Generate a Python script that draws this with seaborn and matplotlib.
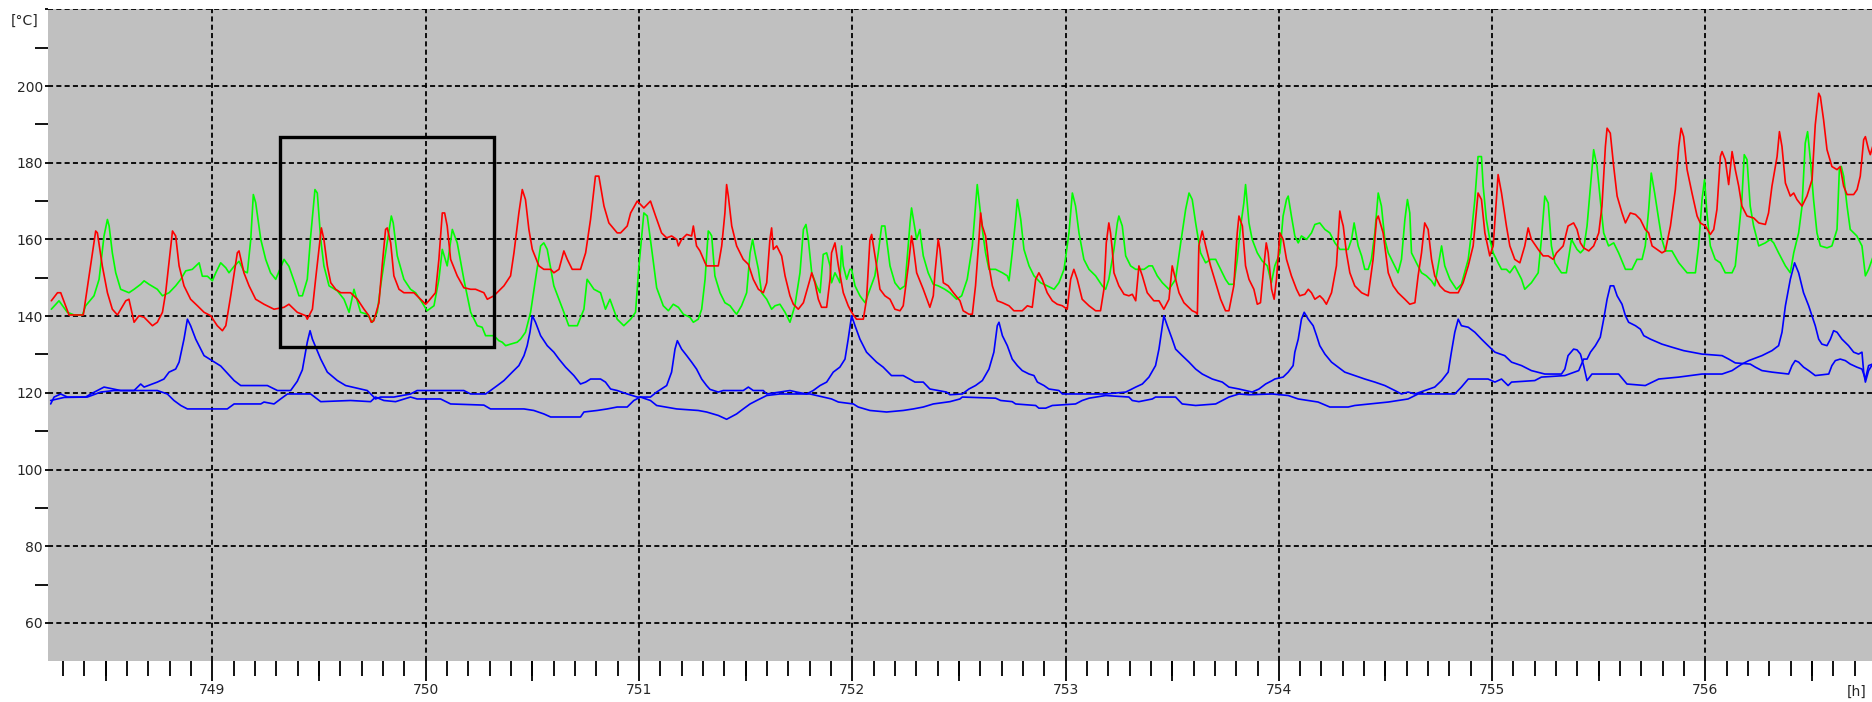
import matplotlib
matplotlib.use("Agg")
import matplotlib.pyplot as plt
import seaborn as sns
from matplotlib.patches import Rectangle
from matplotlib.ticker import FixedLocator, MultipleLocator

# ---------------- data (hours, degC) ----------------
red_h = [748.245, 748.274, 748.289, 748.328, 748.395, 748.453, 748.461, 748.484, 748.508, 748.531,
         748.555, 748.594, 748.609, 748.633, 748.656, 748.680, 748.719, 748.742, 748.766, 748.781,
         748.813, 748.828, 748.844, 748.867, 748.898, 748.930, 748.961, 748.992, 749.023, 749.047,
         749.063, 749.086, 749.117, 749.125, 749.148, 749.172, 749.203, 749.242, 749.289, 749.336,
         749.359, 749.398, 749.438, 749.445, 749.469, 749.484, 749.511, 749.523, 749.539, 749.555,
         749.578, 749.602,
         749.648, 749.680, 749.711, 749.734, 749.745, 749.757, 749.781, 749.796, 749.812, 749.820,
         749.836, 749.851, 749.875, 749.898, 749.945, 749.976, 750.000, 750.015, 750.046, 750.062,
         750.078, 750.089, 750.101, 750.117, 750.148, 750.179, 750.211, 750.234, 750.273, 750.289,
         750.320, 750.367, 750.398, 750.414, 750.437, 750.453, 750.468, 750.484, 750.500, 750.531,
         750.554, 750.586, 750.601, 750.625, 750.648, 750.664, 750.687, 750.726, 750.750, 750.773,
         750.796, 750.812, 750.836, 750.859, 750.898, 750.914, 750.945, 750.961, 750.992, 751.023,
         751.054, 751.078,
         751.106, 751.130, 751.153, 751.177, 751.185, 751.200, 751.224, 751.247, 751.255, 751.270,
         751.286, 751.310, 751.317, 751.372, 751.388, 751.403, 751.411, 751.419, 751.435, 751.458,
         751.489, 751.513, 751.536, 751.560, 751.583, 751.599, 751.614, 751.622, 751.630, 751.646,
         751.669, 751.685, 751.708, 751.724, 751.747, 751.771, 751.802, 751.810, 751.825, 751.841,
         751.856, 751.880, 751.896, 751.903, 751.919, 751.935, 751.958, 751.981, 751.997, 752.020,
         752.052, 752.067, 752.083, 752.091, 752.114, 752.130, 752.153, 752.177, 752.200, 752.224,
         752.239, 752.263, 752.278, 752.286, 752.302, 752.333, 752.364, 752.380, 752.388, 752.403,
         752.411, 752.427, 752.450, 752.474, 752.505,
         752.520, 752.547, 752.563, 752.578, 752.594, 752.602, 752.610, 752.625, 752.641, 752.657,
         752.680, 752.704, 752.735, 752.758, 752.797, 752.821, 752.844, 752.860, 752.875, 752.891,
         752.914, 752.938, 752.961, 752.985, 753.008, 753.024, 753.039, 753.055, 753.078, 753.110,
         753.141, 753.164, 753.180, 753.191, 753.203, 753.211, 753.219, 753.227, 753.250, 753.274,
         753.297, 753.313, 753.329, 753.344, 753.360, 753.383, 753.414, 753.438, 753.461, 753.485,
         753.500, 753.516, 753.532, 753.555, 753.594, 753.610, 753.618, 753.625, 753.641, 753.657,
         753.680, 753.704, 753.727, 753.750, 753.766, 753.789, 753.805, 753.813, 753.829, 753.844,
         753.860, 753.883, 753.899, 753.914, 753.930, 753.941,
         753.950, 753.966, 753.978, 753.989, 754.005, 754.020, 754.036, 754.059, 754.083, 754.098,
         754.122, 754.138, 754.153, 754.169, 754.192, 754.208, 754.223, 754.247, 754.270, 754.286,
         754.294, 754.302, 754.317, 754.333, 754.356, 754.388, 754.419, 754.442, 754.458, 754.466,
         754.489, 754.513, 754.536, 754.559, 754.591, 754.614, 754.638, 754.653, 754.669, 754.684,
         754.700, 754.716, 754.731, 754.755, 754.778, 754.802, 754.841, 754.864, 754.888, 754.911,
         754.934, 754.950, 754.966, 754.989, 755.005, 755.020, 755.028, 755.044, 755.067, 755.083,
         755.106, 755.130, 755.153, 755.169, 755.184, 755.216, 755.239, 755.263, 755.286, 755.302,
         755.333, 755.356,
         755.382, 755.398, 755.414, 755.429, 755.453, 755.476, 755.500, 755.515, 755.531, 755.539,
         755.554, 755.570, 755.586, 755.609, 755.625, 755.648, 755.672, 755.695, 755.718, 755.734,
         755.750, 755.773, 755.796, 755.812, 755.836, 755.859, 755.875, 755.886, 755.898, 755.914,
         755.937, 755.961, 755.976, 756.000, 756.023, 756.039, 756.054, 756.070, 756.078, 756.093,
         756.109, 756.125, 756.140, 756.156, 756.171, 756.195, 756.226, 756.250, 756.281, 756.296,
         756.312, 756.336, 756.347, 756.359, 756.375, 756.398, 756.414, 756.429, 756.453, 756.476,
         756.500, 756.515, 756.531, 756.539, 756.554, 756.570, 756.593, 756.617, 756.632, 756.648,
         756.664, 756.695, 756.711, 756.726, 756.742, 756.750, 756.765, 756.773, 756.784]
red_v = [144.0, 146.1, 146.1, 140.3, 140.3, 162.2, 161.7, 153.1, 146.1, 141.8,
         140.3, 144.0, 144.4, 138.4, 140.1, 139.7, 137.5, 138.4, 141.0, 146.1,
         162.2, 160.9, 153.1, 147.9, 144.4, 142.7, 141.0, 140.1, 137.5, 136.2,
         137.5, 145.3, 156.5, 157.0, 151.3, 147.9, 144.4, 143.1, 141.8, 142.3,
         143.1, 141.0, 140.1, 139.2, 141.8, 149.6, 163.0, 160.0, 153.1, 148.7,
         147.0, 146.1,
         146.1, 144.4, 141.8, 140.1, 138.4, 138.8, 143.5, 153.1, 162.6, 163.0,
         159.1, 150.5, 147.0, 146.1, 146.1, 144.4, 143.1, 144.0, 146.1, 154.8,
         166.9, 166.9, 163.5, 154.8, 150.5, 147.4, 147.0, 147.0, 146.1, 144.4,
         145.3, 147.9, 150.5, 156.5, 166.9, 173.0, 170.4, 162.6, 157.4, 153.1,
         152.2, 152.2, 151.3, 152.2, 157.0, 154.8, 152.2, 152.2, 156.5, 165.2,
         176.5, 176.5, 168.7, 164.3, 161.7, 161.7, 163.5, 166.9, 170.0, 168.2,
         170.0, 166.1,
         161.7, 160.4, 160.9, 160.0, 158.3, 160.0, 161.3, 160.9, 163.5, 158.3,
         157.0, 153.9, 153.1, 153.1, 158.3, 166.9, 174.3, 171.3, 163.5, 158.3,
         154.8, 153.5, 149.6, 147.0, 146.1, 148.7, 160.0, 163.0, 157.4, 158.3,
         155.7, 150.5, 145.3, 143.1, 141.8, 143.5, 149.6, 151.3, 148.7, 144.4,
         142.3, 142.3, 149.6, 156.5, 159.1, 153.1, 146.1, 142.7, 141.0, 139.2,
         139.2, 144.4, 160.0, 161.3, 153.1, 147.0, 145.3, 144.4, 141.8, 141.4,
         142.7, 153.1, 160.9, 158.3, 151.3, 147.0, 142.3, 145.3, 151.3, 160.0,
         157.4, 148.7, 147.9, 146.1, 144.0,
         141.4, 140.5, 140.5, 147.9, 160.0, 166.9, 163.5, 160.9, 153.1, 147.9,
         144.0, 143.5, 142.7, 141.4, 141.4, 142.7, 142.3, 149.6, 151.3, 149.6,
         146.1, 144.0, 143.1, 142.7, 141.8, 149.6, 152.2, 149.6, 144.4, 142.7,
         141.4, 141.4, 147.0, 159.1, 164.3, 161.7, 157.4, 151.3, 147.9, 145.7,
         145.3, 145.7, 144.0, 153.1, 150.5, 146.1, 144.0, 144.0, 141.8, 144.4,
         153.1, 149.6, 146.1, 143.5, 141.4, 141.0, 140.5, 158.3, 162.2, 158.3,
         153.1, 148.7, 144.4, 141.4, 141.4, 147.9, 161.7, 166.1, 163.5, 153.1,
         149.6, 147.0, 143.1, 143.5, 153.1, 159.1,
         156.5, 147.0, 144.4, 149.6, 161.7, 160.0, 154.8, 150.5, 147.0, 145.3,
         145.7, 147.0, 146.1, 144.4, 145.3, 144.4, 143.1, 146.1, 153.1, 167.4,
         165.2, 163.5, 156.5, 151.3, 147.9, 146.1, 145.3, 154.8, 165.2, 166.1,
         161.7, 151.3, 147.9, 146.1, 144.4, 143.1, 143.5, 150.5, 156.5, 164.3,
         162.6, 154.8, 150.5, 147.9, 146.6, 146.1, 146.1, 148.7, 153.1, 158.3,
         172.1, 170.4, 161.7, 155.7, 158.3, 170.4, 176.9, 172.1, 163.5, 158.3,
         154.8, 153.9, 158.3, 163.0, 160.0, 157.4, 155.7, 155.7, 154.8, 156.5,
         158.3, 163.5,
         164.3, 162.6, 159.1, 157.8, 157.0, 158.3, 161.7, 168.7, 184.2, 189.0,
         187.7, 179.0, 171.3, 166.9, 164.3, 166.9, 166.5, 165.2, 162.6, 161.7,
         158.3, 157.4, 156.5, 157.0, 163.5, 173.0, 184.2, 189.0, 186.8, 178.2,
         172.1, 166.1, 164.3, 163.5, 161.3, 162.6, 167.8, 181.6, 182.9, 180.8,
         174.3, 182.9, 178.2, 173.9, 168.7, 166.1, 165.6, 164.3, 163.9, 166.9,
         173.9, 181.6, 188.1, 184.2, 174.7, 171.3, 172.1, 170.4, 168.7, 171.3,
         175.6, 189.9, 198.1, 197.2, 191.2, 183.4, 179.0, 178.2, 179.0, 173.9,
         171.7, 171.7, 173.0, 176.5, 186.0, 186.8, 183.4, 182.1, 184.2]

green_h = [748.245, 748.281, 748.320, 748.352, 748.391, 748.406, 748.445, 748.469, 748.492, 748.508,
           748.516, 748.531, 748.547, 748.570, 748.609, 748.633, 748.664, 748.680, 748.703, 748.742,
           748.766, 748.797, 748.828, 748.852, 748.875, 748.906, 748.938, 748.953, 748.977, 749.000,
           749.016, 749.039, 749.063, 749.078, 749.102, 749.125, 749.148, 749.164, 749.180, 749.192,
           749.203, 749.227, 749.250, 749.273, 749.297, 749.336, 749.359, 749.391, 749.406, 749.422,
           749.445, 749.461, 749.481, 749.492, 749.508, 749.523, 749.547, 749.586, 749.617, 749.641,
           749.664, 749.695, 749.726, 749.750, 749.773, 749.789, 749.812, 749.839, 749.848, 749.867,
           749.898, 749.929, 749.953, 749.984, 750.007, 750.039, 750.062, 750.078, 750.101, 750.125,
           750.148, 750.179, 750.211, 750.242, 750.265, 750.281, 750.320, 750.343, 750.359, 750.375,
           750.398, 750.429, 750.445, 750.468, 750.492, 750.515, 750.539, 750.554, 750.570, 750.601,
           750.648, 750.671, 750.711, 750.742, 750.757, 750.789, 750.820, 750.843, 750.864, 750.898,
           750.929, 750.961, 750.984, 751.000, 751.023, 751.039, 751.062,
           751.083, 751.114, 751.138, 751.161, 751.185, 751.208, 751.239, 751.255, 751.278, 751.294,
           751.310, 751.325, 751.333, 751.341, 751.356, 751.380, 751.403, 751.427, 751.450, 751.458,
           751.481, 751.505, 751.521, 751.533, 751.544, 751.560, 751.575, 751.599, 751.622, 751.638,
           751.661, 751.685, 751.708, 751.731, 751.755, 751.771, 751.783, 751.794, 751.810, 751.833,
           751.849, 751.864, 751.880, 751.896, 751.903, 751.919, 751.935, 751.942, 751.950, 751.958,
           751.974, 751.989, 751.997, 752.013, 752.036, 752.060, 752.083, 752.106, 752.122, 752.138,
           752.153, 752.177, 752.200, 752.224, 752.247, 752.271, 752.278, 752.302, 752.317, 752.333,
           752.356, 752.380, 752.403, 752.434, 752.458, 752.489, 752.513,
           752.539, 752.563, 752.578, 752.586, 752.594, 752.610, 752.625, 752.641, 752.672, 752.704,
           752.727, 752.735, 752.750, 752.766, 752.774, 752.790, 752.805, 752.829, 752.852, 752.883,
           752.914, 752.946, 752.969, 752.993, 753.016, 753.032, 753.047, 753.063, 753.086, 753.110,
           753.141, 753.172, 753.188, 753.203, 753.227, 753.243, 753.250, 753.266, 753.282, 753.305,
           753.329, 753.368, 753.391, 753.407, 753.430, 753.454, 753.485, 753.516, 753.540, 753.563,
           753.579, 753.594, 753.610, 753.633, 753.657, 753.680, 753.704, 753.727, 753.750, 753.766,
           753.789, 753.805, 753.821, 753.836, 753.844, 753.860, 753.875, 753.899, 753.922, 753.946,
           753.965, 753.981, 754.005, 754.020, 754.036, 754.044, 754.059, 754.075, 754.091, 754.106,
           754.130, 754.153, 754.169, 754.192, 754.216, 754.239, 754.263, 754.286, 754.325, 754.341,
           754.353, 754.372, 754.388, 754.403, 754.419, 754.434, 754.450, 754.466, 754.481, 754.497,
           754.513, 754.536, 754.559, 754.575, 754.591, 754.603, 754.614, 754.622, 754.645, 754.669,
           754.692, 754.716, 754.731, 754.747, 754.763, 754.778, 754.802, 754.833, 754.856, 754.888,
           754.903, 754.919, 754.934, 754.950, 754.958, 754.973, 754.989, 755.005, 755.028, 755.044,
           755.067, 755.083, 755.106, 755.138, 755.153, 755.184, 755.216, 755.231, 755.247, 755.263,
           755.278, 755.294, 755.325, 755.348, 755.372,
           755.398, 755.414, 755.429, 755.445, 755.461, 755.476, 755.492, 755.507, 755.523, 755.546,
           755.570, 755.593, 755.625, 755.656, 755.679, 755.703, 755.718, 755.734, 755.746, 755.762,
           755.781, 755.796, 755.812, 755.843, 755.875, 755.914, 755.953, 755.968, 755.984, 755.996,
           756.007, 756.023, 756.046, 756.070, 756.093, 756.125, 756.140, 756.156, 756.171, 756.182,
           756.195, 756.210, 756.226, 756.250, 756.281, 756.304, 756.320, 756.343, 756.375, 756.398,
           756.414, 756.437, 756.453, 756.468, 756.479, 756.492, 756.507, 756.523, 756.539, 756.570,
           756.593, 756.617, 756.628, 756.637, 756.648, 756.664, 756.679, 756.710, 756.734, 756.750,
           756.765, 756.784]
green_v = [141.8, 144.0, 141.0, 140.3, 140.3, 142.7, 145.3, 149.6, 160.9, 165.2,
           163.5, 156.5, 151.3, 147.0, 146.1, 147.0, 148.3, 149.2, 148.3, 147.0,
           145.3, 146.1, 147.9, 149.6, 151.8, 152.2, 153.9, 150.4, 150.4, 149.2,
           151.3, 153.9, 152.6, 151.3, 153.0, 154.3, 151.7, 151.3, 160.0, 171.7,
           169.6, 160.0, 154.8, 151.3, 149.6, 154.8, 153.0, 147.9, 145.3, 145.3,
           149.6, 160.9, 173.0, 172.1, 160.0, 153.1, 147.9, 146.6, 144.4, 141.0,
           147.0, 141.0, 140.5, 138.4, 141.0, 147.9, 156.5, 166.1, 164.3, 155.7,
           149.6, 147.0, 146.1, 143.5, 141.4, 142.7, 149.6, 157.4, 153.1, 162.6,
           159.1, 149.6, 141.0, 137.5, 137.1, 134.9, 134.9, 133.6, 133.2, 132.3,
           132.7, 133.2, 134.0, 135.8, 141.0, 149.6, 158.3, 159.1, 157.4, 147.9,
           141.0, 137.5, 137.5, 141.8, 149.6, 147.0, 146.1, 141.8, 144.4, 139.2,
           137.5, 139.2, 141.0, 153.1, 166.9, 166.1, 156.5,
           147.4, 142.7, 141.4, 143.1, 142.3, 140.5, 139.7, 138.4, 139.2, 141.8,
           149.6, 162.2, 161.7, 160.9, 150.5, 146.1, 143.5, 142.7, 141.0, 140.5,
           142.7, 146.1, 156.5, 160.0, 156.5, 152.2, 146.1, 144.4, 141.8, 142.7,
           143.1, 141.0, 138.4, 142.7, 151.3, 162.6, 163.9, 160.0, 151.3, 147.9,
           146.1, 156.1, 156.5, 153.1, 148.7, 151.3, 149.6, 148.7, 158.3, 153.1,
           149.6, 152.2, 152.2, 147.9, 145.3, 143.5, 147.0, 150.5, 156.5, 163.5,
           163.5, 153.1, 148.7, 147.0, 147.9, 164.3, 168.2, 160.0, 162.6, 155.7,
           151.3, 148.3, 147.9, 147.0, 146.1, 144.4, 145.3,
           149.6, 158.3, 168.7, 174.3, 170.4, 162.6, 156.5, 152.2, 152.2, 151.3,
           150.5, 149.2, 156.5, 165.2, 170.4, 165.2, 157.4, 153.1, 150.5, 148.7,
           147.9, 147.0, 148.7, 152.2, 161.7, 172.1, 168.7, 161.7, 154.8, 152.2,
           150.5, 147.9, 147.0, 149.6, 157.4, 164.3, 166.1, 163.5, 155.7, 153.1,
           152.2, 152.2, 153.1, 153.1, 150.5, 148.7, 147.0, 149.6, 159.1, 167.8,
           172.1, 170.4, 164.3, 156.5, 153.9, 154.8, 154.8, 152.2, 149.6, 148.3,
           148.3, 154.8, 163.5, 169.5, 174.3, 164.3, 160.0, 156.5, 154.4, 153.1,
           148.7, 153.1, 156.5, 166.1, 170.4, 171.3, 166.1, 160.9, 159.1, 160.9,
           160.0, 161.7, 163.9, 164.3, 162.6, 161.7, 159.1, 157.4, 157.4, 160.0,
           164.3, 158.3, 155.7, 152.2, 152.2, 154.8, 161.7, 172.1, 168.7, 160.0,
           156.5, 153.9, 151.3, 154.8, 165.2, 170.4, 166.9, 156.5, 153.9, 151.3,
           150.5, 149.2, 147.9, 153.1, 158.3, 153.1, 149.6, 147.0, 148.3, 154.8,
           161.7, 170.4, 181.6, 181.6, 173.9, 165.2, 160.0, 156.5, 153.9, 152.2,
           152.2, 151.3, 153.1, 149.6, 147.0, 148.7, 151.3, 160.0, 171.3, 169.5,
           158.3, 153.9, 151.3, 151.3, 160.0,
           157.4, 156.5, 157.4, 163.5, 173.9, 183.4, 179.0, 170.4, 161.7, 158.3,
           159.1, 156.5, 152.2, 152.2, 154.8, 154.8, 158.3, 167.8, 177.3, 172.1,
           165.2, 160.0, 157.0, 157.0, 153.9, 151.3, 151.3, 158.3, 170.4, 175.6,
           166.9, 158.3, 154.8, 153.9, 151.3, 151.3, 153.1, 161.7, 170.4, 182.1,
           180.8, 168.7, 163.5, 158.3, 159.1, 160.0, 159.1, 156.5, 153.1, 151.3,
           156.5, 161.7, 168.7, 185.1, 188.1, 180.8, 170.4, 161.7, 158.3, 157.8,
           158.3, 162.6, 178.2, 179.0, 176.5, 168.7, 162.6, 160.9, 158.3, 150.5,
           152.2, 155.2]

blue_a_h = [748.242, 748.258, 748.289, 748.320, 748.406, 748.430, 748.492, 748.570, 748.633, 748.664,
            748.680, 748.742, 748.773, 748.797, 748.828, 748.844, 748.867, 748.883, 748.898, 748.922,
            748.961, 749.039, 749.102, 749.133, 749.258, 749.305, 749.367, 749.398, 749.422, 749.445,
            749.458, 749.469, 749.508, 749.539, 749.586, 749.625, 749.695, 749.726, 749.750, 749.765,
            749.789, 749.851, 749.929, 749.960, 750.179, 750.211, 750.281, 750.304, 750.336, 750.367,
            750.406, 750.437, 750.461, 750.476, 750.489, 750.500, 750.515, 750.539, 750.570, 750.601,
            750.625, 750.656, 750.695, 750.726, 750.750, 750.773, 750.820, 750.843, 750.867, 750.898,
            750.945, 750.992, 751.054, 751.083, 751.130, 751.153, 751.169, 751.180, 751.200, 751.224,
            751.247, 751.270, 751.294, 751.317, 751.333, 751.372, 751.395, 751.489, 751.513, 751.536,
            751.583, 751.599, 751.661, 751.708, 751.739, 751.786, 751.817, 751.849, 751.880, 751.911,
            751.942, 751.966, 751.981, 751.997, 752.013, 752.036, 752.067, 752.114, 752.145, 752.184,
            752.239, 752.294, 752.333, 752.364, 752.442, 752.458, 752.516, 752.547, 752.578, 752.610,
            752.641, 752.664, 752.680, 752.688, 752.704, 752.727, 752.750, 752.774, 752.797, 752.829,
            752.852, 752.868, 752.899, 752.922, 752.969, 752.985, 753.188, 753.282, 753.297, 753.329,
            753.360, 753.391, 753.422, 753.438, 753.454, 753.461, 753.477, 753.500, 753.516, 753.547,
            753.579, 753.610, 753.641, 753.688, 753.735, 753.766, 753.813, 753.844, 753.875, 753.907,
            753.938, 753.969, 753.981, 754.020, 754.044, 754.067, 754.075, 754.091, 754.106, 754.119,
            754.138, 754.161, 754.177, 754.192, 754.216, 754.247, 754.278, 754.309, 754.356, 754.403,
            754.450, 754.497, 754.544, 754.575, 754.606, 754.638, 754.684, 754.731, 754.763, 754.794,
            754.809, 754.825, 754.841, 754.856, 754.888, 754.919, 754.950, 754.981, 755.013, 755.059,
            755.091, 755.138, 755.184, 755.247, 755.325, 755.341, 755.356, 755.382, 755.398, 755.414,
            755.429, 755.445, 755.468, 755.593, 755.632, 755.718, 755.781, 755.875, 755.984, 756.078,
            756.125, 756.171, 756.203, 756.265, 756.312, 756.343, 756.359, 756.375, 756.398, 756.418,
            756.437, 756.460, 756.484, 756.515, 756.531, 756.546, 756.570, 756.586, 756.601, 756.617,
            756.640, 756.671, 756.695, 756.718, 756.734, 756.742, 756.750, 756.765, 756.784]
blue_a_v = [117.1, 118.9, 119.7, 118.9, 118.9, 119.7, 121.5, 120.6, 120.6, 122.3,
            121.5, 122.8, 123.6, 125.4, 126.2, 128.0, 134.0, 139.2, 137.5, 134.0,
            129.7, 127.0, 123.2, 121.9, 121.9, 120.6, 120.6, 123.0, 126.0, 133.2,
            136.2, 134.0, 128.8, 125.4, 123.2, 121.9, 121.0, 120.6, 119.3, 118.4,
            118.9, 118.9, 119.7, 120.6, 120.6, 119.7, 119.7, 120.6, 121.9, 123.2,
            125.4, 127.1, 129.7, 132.3, 135.8, 140.1, 138.4, 134.9, 132.3, 130.6,
            128.8, 126.7, 124.5, 122.3, 122.8, 123.6, 123.6, 122.8, 121.0, 120.6,
            119.7, 118.9, 118.9, 120.2, 121.9, 125.4, 131.4, 133.6, 131.4, 129.7,
            128.0, 126.2, 123.6, 121.9, 120.9, 120.2, 120.6, 120.6, 121.5, 120.6,
            120.6, 119.7, 120.2, 120.6, 120.2, 119.7, 120.6, 121.9, 122.8, 125.4,
            126.7, 128.8, 134.0, 140.1, 137.5, 134.0, 130.6, 128.0, 126.7, 124.5,
            124.5, 122.8, 122.8, 121.0, 120.2, 119.5, 119.7, 121.0, 121.9, 123.2,
            126.2, 130.6, 137.5, 138.4, 134.9, 132.3, 128.8, 127.1, 125.8, 124.9,
            124.5, 122.8, 121.9, 121.0, 120.6, 119.7, 119.7, 120.2, 120.6, 121.5,
            122.3, 124.1, 127.1, 131.4, 137.5, 140.1, 137.5, 134.0, 131.4, 129.7,
            128.0, 126.2, 124.9, 123.6, 122.8, 121.5, 121.0, 120.6, 120.2, 121.0,
            122.3, 123.2, 123.6, 124.1, 125.4, 127.1, 130.6, 134.0, 139.2, 141.0,
            139.2, 137.5, 134.9, 132.3, 130.1, 128.0, 126.7, 125.4, 124.5, 123.6,
            122.8, 121.9, 120.6, 119.7, 120.2, 119.7, 120.6, 121.5, 123.2, 125.4,
            130.6, 135.8, 139.2, 137.5, 137.1, 135.8, 134.0, 132.3, 130.6, 129.7,
            128.0, 127.1, 125.8, 124.9, 124.9, 126.2, 129.7, 131.4, 131.2, 130.1,
            127.1, 123.2, 124.9, 124.9, 122.3, 121.9, 123.6, 124.1, 124.9, 124.9,
            125.8, 127.5, 128.4, 129.7, 131.0, 132.3, 135.8, 142.7, 149.6, 153.9,
            151.3, 146.1, 142.7, 137.5, 134.0, 132.7, 132.3, 134.0, 136.2, 135.8,
            134.0, 132.3, 130.6, 130.1, 130.6, 125.4, 122.8, 125.8, 127.5]

blue_b_h = [748.242, 748.305, 748.414, 748.477, 748.539, 748.742, 748.789, 748.820, 748.852, 748.883,
            749.070, 749.102, 749.227, 749.242, 749.289, 749.320, 749.352, 749.461, 749.492, 749.508,
            749.648, 749.742, 749.765, 749.804, 749.859, 749.929, 749.960, 750.070, 750.117, 750.273,
            750.304, 750.461, 750.507, 750.554, 750.586, 750.726, 750.742, 750.804, 750.851, 750.898,
            750.945, 750.976, 751.007, 751.054, 751.083, 751.177, 751.278, 751.317, 751.372, 751.411,
            751.458, 751.489, 751.521, 751.552, 751.599, 751.661, 751.802, 751.864, 751.903, 751.935,
            752.005, 752.028, 752.083, 752.161, 752.239, 752.286, 752.333, 752.380, 752.458, 752.505,
            752.516, 752.672, 752.696, 752.750, 752.766, 752.860, 752.875, 752.907, 752.938, 753.047,
            753.078, 753.110, 753.188, 753.297, 753.313, 753.344, 753.407, 753.422, 753.516, 753.547,
            753.610, 753.704, 753.735, 753.766, 753.813, 753.860, 753.969, 754.044, 754.091, 754.184,
            754.239, 754.325, 754.356, 754.513, 754.606, 754.653, 754.825, 754.856, 754.888, 754.981,
            755.013, 755.044, 755.075, 755.091, 755.200, 755.231, 755.341, 755.406, 755.429, 755.445,
            755.461, 755.484, 755.507, 755.523, 755.539, 755.554, 755.570, 755.586, 755.609, 755.625,
            755.640, 755.672, 755.695, 755.711, 755.742, 755.796, 755.843, 755.898, 755.984, 756.078,
            756.109, 756.140, 756.210, 756.234, 756.265, 756.312, 756.390, 756.406, 756.421, 756.437,
            756.460, 756.484, 756.515, 756.578, 756.593, 756.609, 756.632, 756.656, 756.679, 756.710,
            756.734, 756.750, 756.765, 756.784]
blue_b_v = [118.0, 118.8, 118.9, 120.2, 120.6, 120.6, 119.7, 118.0, 116.7, 115.8,
            115.8, 117.1, 117.1, 117.6, 117.1, 118.4, 119.7, 119.7, 118.4, 117.7,
            118.0, 117.7, 118.9, 118.0, 117.7, 118.9, 118.4, 118.4, 117.1, 116.8,
            115.8, 115.8, 115.4, 114.5, 113.7, 113.7, 115.0, 115.4, 115.8, 116.3,
            116.3, 118.0, 118.9, 118.0, 116.7, 115.8, 115.4, 115.0, 114.1, 113.1,
            114.5, 115.8, 117.1, 118.0, 119.3, 119.7, 119.7, 118.9, 118.4, 117.6,
            117.1, 116.3, 115.4, 115.0, 115.4, 115.8, 116.3, 117.1, 117.7, 118.4,
            118.9, 118.6, 118.0, 117.7, 117.1, 116.7, 116.0, 116.0, 116.7, 117.1,
            118.0, 118.6, 119.3, 118.9, 118.0, 117.7, 118.4, 118.9, 118.9, 117.1,
            116.7, 117.1, 118.0, 118.9, 119.7, 119.5, 119.7, 119.3, 118.4, 117.6,
            116.3, 116.3, 116.7, 117.6, 118.4, 119.7, 119.7, 121.5, 123.6, 123.6,
            122.8, 123.6, 121.9, 122.8, 123.2, 124.1, 124.5, 125.8, 128.8, 128.8,
            130.6, 132.3, 134.5, 139.2, 144.4, 147.9, 147.9, 145.3, 143.1, 140.1,
            138.4, 137.5, 136.6, 134.9, 134.0, 132.7, 131.9, 131.0, 130.1, 129.7,
            128.8, 127.8, 127.5, 126.7, 125.8, 125.4, 124.9, 127.1, 128.4, 128.0,
            126.7, 125.8, 124.5, 124.9, 127.1, 128.4, 128.8, 128.4, 127.5, 126.7,
            126.2, 123.6, 127.1, 127.5]

# rectangle annotation (hours, degC)
box_h = [749.316, 750.320]
box_v = [132.0, 186.8]

# axis ticks / labels
hour_ticks = [749, 750, 751, 752, 753, 754, 755, 756]
hour_labels = ["749", "750", "751", "752", "753", "754", "755", "756"]
half_hour_ticks = [748.5, 749.5, 750.5, 751.5, 752.5, 753.5, 754.5, 755.5, 756.5]
temp_ticks = [60, 80, 100, 120, 140, 160, 180, 200, 220]
temp_labels = ["60", "80", "100", "120", "140", "160", "180", "200", ""]
temp_minor = [70, 90, 110, 130, 150, 170, 190, 210]
x_range = [748.228, 756.781]
y_range = [50, 220]

# ---------------- figure ----------------
sns.set_style("white")
plt.rcParams["font.family"] = ["DejaVu Sans"]

W, H = 1872, 702
fig = plt.figure(figsize=(W / 100, H / 100), dpi=100)
fig.patch.set_facecolor("white")
L, T, B = 47.7, 9.3, 661.3
ax = fig.add_axes([L / W, 1 - B / H, 1 - L / W, (B - T) / H])
ax.set_facecolor("#C0C0C0")
for s in ax.spines.values():
    s.set_visible(False)

lw = 1.2
sns.lineplot(x=blue_b_h, y=blue_b_v, color="#0000FF", linewidth=lw, ax=ax, estimator=None, sort=False)
sns.lineplot(x=blue_a_h, y=blue_a_v, color="#0000FF", linewidth=lw, ax=ax, estimator=None, sort=False)
sns.lineplot(x=green_h, y=green_v, color="#00FF00", linewidth=lw, ax=ax, estimator=None, sort=False)
sns.lineplot(x=red_h, y=red_v, color="#FF0000", linewidth=lw, ax=ax, estimator=None, sort=False)

ax.add_patch(Rectangle((box_h[0], box_v[0]), box_h[1] - box_h[0], box_v[1] - box_v[0],
                       fill=False, edgecolor="black", linewidth=2.4, zorder=6))

ax.set_xlim(*x_range)
ax.set_ylim(*y_range)

ax.set_xticks(hour_ticks)
ax.set_xticklabels(hour_labels, fontsize=10)
ax.xaxis.set_minor_locator(MultipleLocator(0.1))
ax.set_yticks(temp_ticks)
ax.set_yticklabels(temp_labels, fontsize=10)
ax.yaxis.set_minor_locator(FixedLocator(temp_minor))

ax.tick_params(axis="x", which="major", bottom=True, length=14.4, width=1.3, color="black",
               pad=1.5, direction="out")
ax.tick_params(axis="x", which="minor", bottom=True, length=10.8, width=1.3, color="black",
               direction="out")
ax.tick_params(axis="y", which="major", left=True, length=2.5, width=1.3, color="black",
               pad=0.8, direction="out")
ax.tick_params(axis="y", which="minor", left=True, length=9.2, width=1.3, color="black",
               direction="out")

sec = ax.secondary_xaxis("bottom")
sec.set_xticks(half_hour_ticks)
sec.tick_params(bottom=True, length=14.4, width=1.3, color="black", labelbottom=False)
for s in sec.spines.values():
    s.set_visible(False)

ax.grid(True, which="major", color="black", linewidth=1.3, linestyle=(0, (2.8, 1.8)))
ax.set_axisbelow(True)
ax.set_xlabel("")
ax.set_ylabel("")

fig.text(25 / W, 1 - 21 / H, "[°C]", ha="center", va="center", fontsize=10)
fig.text(1857 / W, 1 - 692 / H, "[h]", ha="center", va="center", fontsize=10)

fig.savefig("out.png", dpi=100)
